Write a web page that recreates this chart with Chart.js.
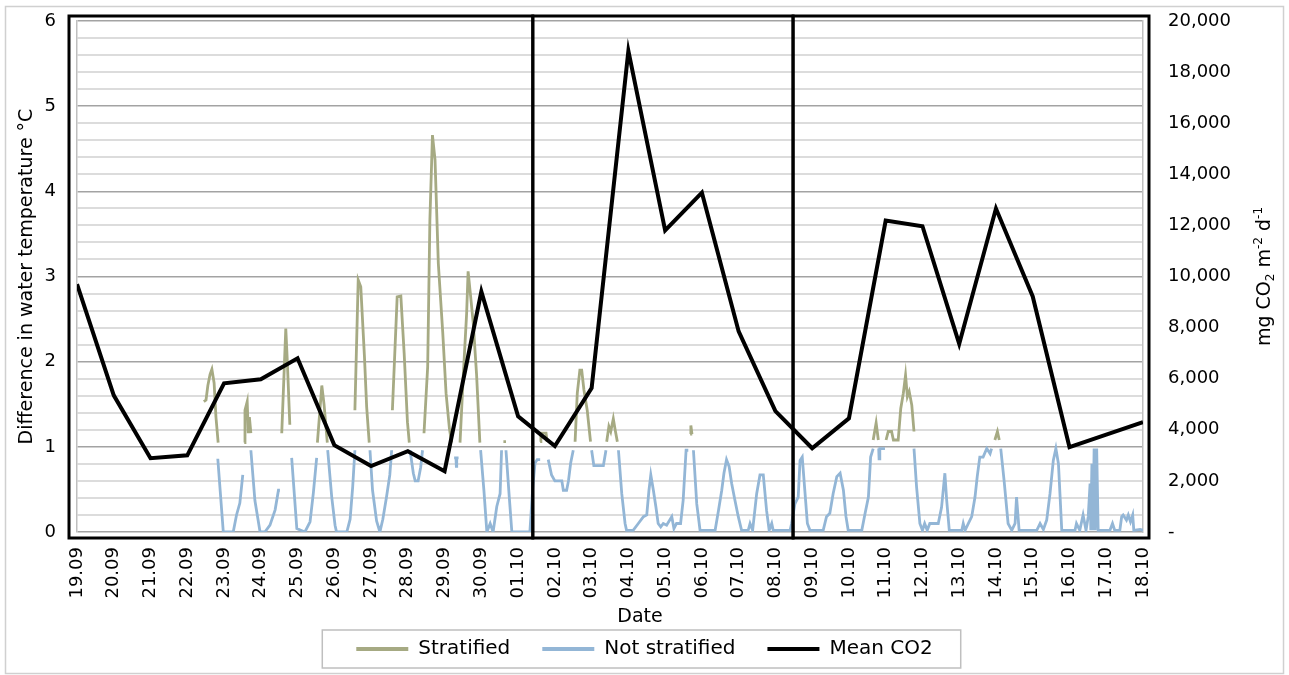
<html>
<head>
<script src="https://cdn.jsdelivr.net/npm/chart.js"></script>
<style>
  body { margin: 0; background: #fff; }
  #wrap { width: 1289px; height: 675px; position: relative; }
</style>
</head>
<body>
<div id="wrap"><canvas id="chart"></canvas></div>
<script>
// x values are days counted from 19.09
const dateLabels = ['19.09','20.09','21.09','22.09','23.09','24.09','25.09','26.09','27.09','28.09','29.09','30.09',
  '01.10','02.10','03.10','04.10','05.10','06.10','07.10','08.10','09.10','10.10','11.10','12.10','13.10','14.10',
  '15.10','16.10','17.10','18.10'];

const meanCO2 = [9700, 5350, 2890, 3000, 5820, 5980, 6800, 3400, 2580, 3160, 2380, 9410, 4530, 3360, 5630,
  18830, 11800, 13280, 7850, 4730, 3280, 4450, 12190, 11970, 7360, 12660, 9220, 3320, 3810, 4300];

// null values break the line
const stratDay = [3.45,3.51,3.56,3.62,3.67,3.73,3.78,3.84, 4.2,
  4.55,4.57,4.63,4.66,4.69,4.73, 5.1,
  5.57,5.68,5.72,5.79, 6.2,
  6.54,6.66,6.72,6.81, 7.2,
  7.56,7.65,7.72,7.82,7.88,7.95, 8.2,
  8.58,8.71,8.81,8.90,8.99,9.04, 9.2,
  9.44,9.54,9.60,9.67,9.74,9.83,9.95,10.04,10.13,10.19, 10.3,
  10.42,10.51,10.60,10.64,10.71,10.78,10.87,10.96, 11.3,
  11.60,11.67, 12.1,
  12.60,12.62,12.76,12.79, 13.2,
  13.55,13.61,13.68,13.73,13.79,13.88,13.97, 14.2,
  14.41,14.47,14.52,14.59,14.64,14.70, 15.5,
  16.68,16.70,16.73, 19,
  21.66,21.74,21.80, 21.9,
  22.01,22.07,22.16,22.21,22.34,22.41,22.48,22.54,22.59,22.64,22.71,22.77, 23.5,
  24.97,25.04,25.09];
const stratVal = [1.53,1.55,1.72,1.85,1.91,1.75,1.35,1.05, null,
  1.05,1.43,1.53,1.16,1.35,1.16, null,
  1.16,2.39,2.02,1.26, null,
  1.05,1.72,1.5,1.05, null,
  1.43,2.96,2.88,2.06,1.47,1.05, null,
  1.43,2.76,2.77,2.10,1.29,1.05, null,
  1.16,1.94,3.66,4.66,4.37,3.15,2.34,1.63,1.22,1.05, null,
  1.05,1.85,2.57,3.06,2.76,2.45,1.85,1.05, null,
  1.06,1.06, null,
  1.06,1.16,1.16,1.06, null,
  1.06,1.63,1.90,1.90,1.67,1.43,1.06, null,
  1.06,1.24,1.18,1.33,1.20,1.06, null,
  1.15,1.25,1.15, null,
  1.08,1.28,1.08, null,
  1.08,1.18,1.18,1.08,1.08,1.45,1.63,1.84,1.59,1.65,1.49,1.18, null,
  1.08,1.18,1.08];

const notDay = [3.83,3.98,4.25,4.34,4.43,4.51, 4.6,
  4.73,4.84,4.98,5.11,5.25,5.39,5.48,5.52, 5.7,
  5.84,5.98,6.20,6.34,6.43,6.52, 6.7,
  6.82,6.93,7.02,7.06,7.34,7.43,7.50,7.56, 7.8,
  7.97,8.04,8.15,8.24,8.32,8.42,8.51,8.56, 8.8,
  9.06,9.15,9.20,9.28,9.35,9.40, 9.8,
  10.26,10.31,10.32,10.33,10.38, 10.7,
  10.98,11.07,11.15,11.24,11.32,11.42,11.51,11.55, 11.6,
  11.67,11.76,11.83,12.32,12.40,12.46,12.52,12.60, 12.7,
  12.82,12.91,13.00,13.19,13.23,13.32,13.37,13.43,13.50, 13.8,
  14.00,14.06,14.32,14.39, 14.6,
  14.73,14.82,14.91,14.95,15.13,15.27,15.41,15.50,15.56,15.61,15.68,15.75,15.81,15.88,15.95,16.04,16.18,16.24,16.31,16.42,16.49,16.57,16.63, 16.7,
  16.77,16.86,16.95,17.36,17.45,17.54,17.60,17.67,17.74,17.81,17.90,17.99,18.08,18.26,18.31,18.38,18.49,18.58,18.67,18.76,18.83,18.90,18.94,
  19.40,19.44,19.53,19.62,19.67,19.73,19.80,19.87,19.94,20.30,20.39,20.48,20.57,20.67,20.76,20.85,20.92,20.98,21.35,21.44,21.53,21.59,21.66, 21.75,
  21.81,21.82,21.84,21.98, 22.3,
  22.77,22.84,22.93,23.00,23.06,23.13,23.20,23.43,23.52,23.61,23.66,23.73,24.07,24.11,24.16,24.25,24.34,24.43,24.49,24.56,24.65,24.75,24.84,24.88, 25.0,
  25.13,25.22,25.33,25.43,25.52,25.56,25.63,26.11,26.20,26.29,26.38,26.47,26.56,26.63,26.70,26.79,27.15,27.19,27.28,27.37,27.45,27.51,27.56,27.58,
  27.61,27.64,27.67,27.70,27.74,27.78,28.10,28.17,28.23,28.37,28.42,28.46,28.55,28.60,28.66,28.72,28.75,28.92,29.0];
const notVal = [0.86,0,0,0.2,0.34,0.67, null,
  0.96,0.37,0,0,0.08,0.26,0.49,0.49, null,
  0.87,0.04,0,0.12,0.46,0.87, null,
  0.96,0.41,0.08,0,0,0.15,0.53,0.96, null,
  0.96,0.49,0.13,0,0.15,0.41,0.67,0.96, null,
  0.96,0.69,0.6,0.6,0.76,0.96, null,
  0.87,0.87,0.77,0.87,0.87, null,
  0.96,0.49,0,0.1,0,0.3,0.45,0.96, null,
  0.96,0.41,0,0,0.53,0.81,0.85,0.85, null,
  0.85,0.67,0.6,0.6,0.49,0.49,0.6,0.81,0.96, null,
  0.96,0.78,0.78,0.96, null,
  0.96,0.45,0.1,0.02,0.02,0.1,0.18,0.2,0.49,0.67,0.49,0.29,0.1,0.06,0.1,0.08,0.18,0.04,0.1,0.1,0.37,0.96,0.96, null,
  0.96,0.33,0.02,0.02,0.25,0.49,0.69,0.85,0.77,0.57,0.37,0.18,0.02,0.02,0.1,0.02,0.45,0.67,0.67,0.25,0.02,0.1,0.02,
  0.02,0.1,0.33,0.41,0.84,0.88,0.49,0.1,0.02,0.02,0.18,0.22,0.45,0.65,0.69,0.49,0.18,0.02,0.02,0.22,0.41,0.88,0.98, null,
  0.98,0.86,0.98,0.98, null,
  0.98,0.53,0.1,0.02,0.1,0.02,0.1,0.1,0.29,0.69,0.37,0.02,0.02,0.1,0.02,0.1,0.18,0.41,0.65,0.88,0.88,0.98,0.92,0.98, null,
  0.98,0.61,0.1,0.02,0.1,0.41,0.02,0.02,0.1,0.03,0.14,0.45,0.84,0.98,0.8,0.02,0.02,0.1,0.02,0.2,0.02,0.18,0.57,0.02,
  0.8,0.02,0.98,0.02,0.98,0.02,0.02,0.1,0.02,0.02,0.18,0.2,0.14,0.2,0.12,0.2,0.02,0.03,0.02];

// boundaries between the three boxed periods (in days)
const periodSplits = [12.4, 19.48];

const FONT = 'DejaVu Sans';

const extras = {
  id: 'extras',
  afterDatasetsDraw(chart) {
    const ctx = chart.ctx, a = chart.chartArea, xs = chart.scales.x;
    const edges = [a.left - 8, xs.getPixelForValue(periodSplits[0]), xs.getPixelForValue(periodSplits[1]), a.right + 6];
    ctx.save();
    ctx.strokeStyle = '#000';
    ctx.lineWidth = 3;
    for (let i = 0; i < 3; i++) {
      ctx.strokeRect(edges[i], a.top - 5, edges[i + 1] - edges[i], a.bottom - a.top + 11);
    }
    ctx.restore();
  },
  afterDraw(chart) {
    const ctx = chart.ctx, a = chart.chartArea;
    const midY = (a.top + a.bottom) / 2;
    ctx.save();
    ctx.fillStyle = '#000';
    ctx.textBaseline = 'middle';
    ctx.textAlign = 'center';
    // left title
    ctx.font = '19px "' + FONT + '"';
    ctx.save();
    ctx.translate(27, midY);
    ctx.rotate(-Math.PI / 2);
    ctx.fillText('Difference in water temperature °C', 0, 0);
    ctx.restore();
    // bottom title
    ctx.fillText('Date', 640, 617);
    // right title with sub/superscripts
    const runs = [['mg CO', 0], ['2', 1], [' m', 0], ['-2', -1], [' d', 0], ['-1', -1]];
    const fontFor = r => (r[1] === 0 ? '19px "' : '12px "') + FONT + '"';
    let total = 0;
    runs.forEach(r => { ctx.font = fontFor(r); total += ctx.measureText(r[0]).width; });
    ctx.save();
    ctx.translate(1265, midY);
    ctx.rotate(-Math.PI / 2);
    ctx.textAlign = 'left';
    let x = -total / 2;
    runs.forEach(r => {
      ctx.font = fontFor(r);
      const dy = r[1] === 1 ? 6 : (r[1] === -1 ? -6 : 0);
      ctx.fillText(r[0], x, dy);
      x += ctx.measureText(r[0]).width;
    });
    ctx.restore();
    // legend frame
    const hb = chart.legend.legendHitBoxes;
    if (hb && hb.length) {
      const last = hb[hb.length - 1];
      const l = hb[0].left - 34, r = last.left + last.width + 28;
      const t = hb[0].top - 9, b = hb[0].top + hb[0].height + 9;
      ctx.strokeStyle = '#bfbfbf';
      ctx.lineWidth = 1.5;
      ctx.strokeRect(l, t, r - l, b - t);
    }
    // outer frame
    ctx.strokeStyle = '#d0d0d0';
    ctx.lineWidth = 1.5;
    ctx.strokeRect(5.5, 6.5, 1278, 667);
    ctx.restore();
  }
};

const isMajor = v => Math.abs(v - Math.round(v)) < 1e-6;

new Chart(document.getElementById('chart'), {
  type: 'line',
  data: {
    datasets: [{
      label: 'Stratified',
      data: stratDay.map((d, i) => ({ x: d, y: stratVal[i] })),
      borderColor: '#a6aa83',
      backgroundColor: '#a6aa83',
      borderWidth: 2.8,
      pointRadius: 0,
      tension: 0,
      spanGaps: false,
      yAxisID: 'y',
      order: 1
    }, {
      label: 'Not stratified',
      data: notDay.map((d, i) => ({ x: d, y: notVal[i] })),
      borderColor: '#93b6d6',
      backgroundColor: '#93b6d6',
      borderWidth: 2.8,
      pointRadius: 0,
      tension: 0,
      spanGaps: false,
      yAxisID: 'y',
      order: 2
    }, {
      label: 'Mean CO2',
      data: meanCO2.map((v, i) => ({ x: i, y: v })),
      borderColor: '#000',
      backgroundColor: '#000',
      borderWidth: 4,
      pointRadius: 0,
      tension: 0,
      yAxisID: 'y1',
      order: 0
    }]
  },
  options: {
    responsive: true,
    maintainAspectRatio: false,
    animation: false,
    layout: { padding: { top: 21, left: 0, right: 0, bottom: 6 } },
    plugins: {
      tooltip: { enabled: false },
      legend: {
        position: 'bottom',
        labels: {
          boxWidth: 52,
          boxHeight: 4,
          padding: 32,
          color: '#000',
          font: { family: FONT, size: 20 },
          sort: (a, b) => a.datasetIndex - b.datasetIndex,
          generateLabels: chart => Chart.defaults.plugins.legend.labels.generateLabels(chart)
            .map(l => Object.assign(l, { lineWidth: 0, fillStyle: l.strokeStyle }))
        }
      }
    },
    scales: {
      x: {
        type: 'linear',
        min: 0,
        max: 29,
        grid: { display: false, drawTicks: false },
        border: { display: false },
        afterFit: s => {
          s.height = s.chart.height - 532 - s.chart.legend.height - 6;
          s.paddingLeft = 0; s.paddingRight = 0; s.paddingTop = 0; s.paddingBottom = 0;
        },
        ticks: {
          stepSize: 1,
          autoSkip: false,
          maxRotation: 90,
          minRotation: 90,
          padding: 15,
          color: '#000',
          font: { family: FONT, size: 18 },
          callback: v => dateLabels[v]
        }
      },
      y: {
        position: 'left',
        min: 0,
        max: 6,
        afterFit: s => { s.width = 77; s.paddingTop = 0; s.paddingBottom = 0; },
        border: { display: true, color: '#bfbfbf', width: 1.5 },
        grid: {
          drawTicks: false,
          color: c => isMajor(c.tick.value) ? '#a3a3a3' : '#dcdcdc',
          lineWidth: c => isMajor(c.tick.value) ? 1.5 : 2
        },
        ticks: {
          stepSize: 0.2,
          autoSkip: false,
          padding: 21,
          color: '#000',
          font: { family: FONT, size: 18 },
          callback: v => isMajor(v) ? String(Math.round(v)) : ''
        }
      },
      y1: {
        position: 'right',
        min: 0,
        max: 20000,
        afterFit: s => { s.width = 1289 - 1143; s.paddingTop = 0; s.paddingBottom = 0; },
        border: { display: true, color: '#bfbfbf', width: 1.5 },
        grid: { display: false, drawTicks: false },
        ticks: {
          stepSize: 2000,
          padding: 25,
          color: '#000',
          font: { family: FONT, size: 18 },
          callback: v => v === 0 ? '-' : v.toLocaleString('en-US')
        }
      }
    }
  },
  plugins: [extras]
});
</script>
</body>
</html>
